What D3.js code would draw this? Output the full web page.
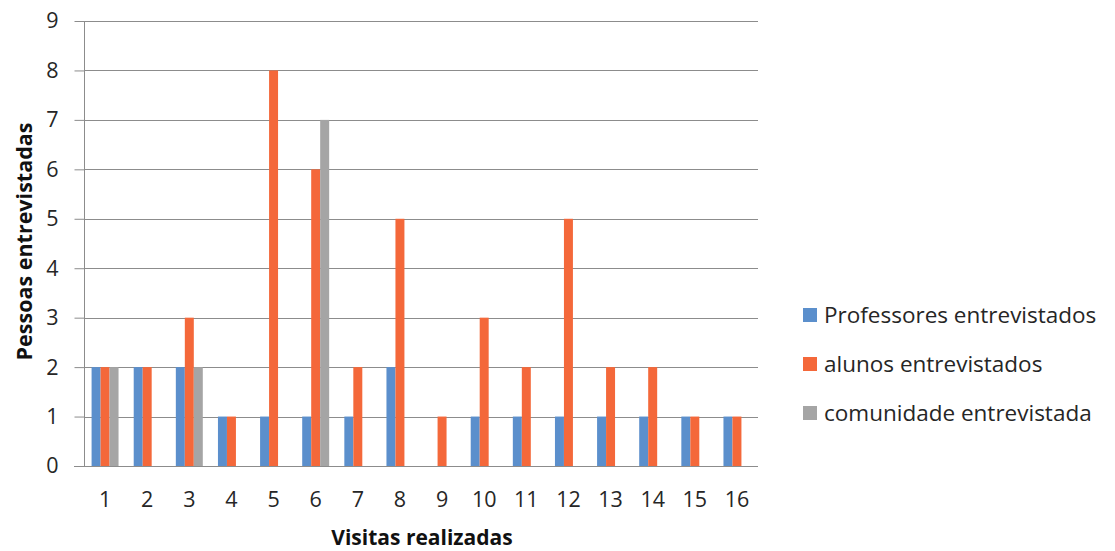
<!DOCTYPE html>
<html>
<head>
<meta charset="utf-8">
<script src="https://cdn.jsdelivr.net/npm/d3@7/dist/d3.min.js"></script>
<style>
  html, body { margin: 0; padding: 0; background: #ffffff; }
  svg { display: block; font-family: "Open Sans", "Liberation Sans", sans-serif; }
</style>
</head>
<body>
<svg id="chart" width="1115" height="551"></svg>
<script>
// Visits and people interviewed per visit
const visitas = ["1","2","3","4","5","6","7","8","9","10","11","12","13","14","15","16"];
const professores = [2,2,2,1,1,1,1,2,0,1,1,1,1,1,1,1];
const alunos      = [2,2,3,1,8,6,2,5,1,3,2,5,2,2,1,1];
const comunidade  = [2,0,2,0,0,7,0,0,0,0,0,0,0,0,0,0];
const seriesNames = ["Professores entrevistados", "alunos entrevistados", "comunidade entrevistada"];
const seriesColors = ["#5b8fcc", "#f4683a", "#a5a5a5"];
const yTicks = [0,1,2,3,4,5,6,7,8,9];

const series = [professores, alunos, comunidade];
const svg = d3.select("#chart");

const plot = { left: 84, right: 758, top: 21, bottom: 466 };

const x = d3.scaleBand()
  .domain(visitas)
  .range([plot.left, plot.right])
  .paddingInner(0.36)
  .paddingOuter(0.18);

const xs = d3.scaleBand()
  .domain(d3.range(series.length))
  .range([0, x.bandwidth()]);

const y = d3.scaleLinear()
  .domain([0, 9])
  .range([plot.bottom, plot.top]);

// horizontal gridlines
svg.append("g")
  .selectAll("line")
  .data(yTicks.filter(d => d > 0))
  .join("line")
  .attr("x1", plot.left)
  .attr("x2", plot.right)
  .attr("y1", d => Math.round(y(d)) + 0.5)
  .attr("y2", d => Math.round(y(d)) + 0.5)
  .attr("stroke", "#8c8c8c")
  .attr("stroke-width", 1);

// bars
const groups = svg.append("g")
  .selectAll("g")
  .data(visitas)
  .join("g")
  .attr("transform", d => `translate(${x(d)},0)`);

groups.selectAll("rect")
  .data((d, i) => series.map((s, k) => ({ k, v: s[i] })))
  .join("rect")
  .attr("x", d => xs(d.k))
  .attr("width", xs.bandwidth())
  .attr("y", d => y(d.v))
  .attr("height", d => y(0) - y(d.v))
  .attr("fill", d => seriesColors[d.k]);

// y axis
const yAxis = svg.append("g")
  .attr("transform", `translate(${plot.left + 0.5},0)`)
  .call(d3.axisLeft(y).tickValues(yTicks).tickFormat(d3.format("d")).tickSize(10).tickPadding(16));
yAxis.select(".domain").attr("stroke", "#8c8c8c").attr("d", `M0,${plot.top}V${plot.bottom}`);
yAxis.selectAll(".tick line").attr("stroke", "#8c8c8c");
yAxis.selectAll(".tick text")
  .attr("font-size", 21.5)
  .attr("fill", "#262626")
  .attr("font-family", "Open Sans, sans-serif");

// x axis baseline and labels
const xAxis = svg.append("g")
  .attr("transform", `translate(0,${plot.bottom + 0.5})`)
  .call(d3.axisBottom(x).tickSize(0).tickPadding(25));
xAxis.select(".domain").attr("stroke", "#8c8c8c").attr("d", `M${plot.left - 10},0H${plot.right}`);
xAxis.selectAll(".tick text")
  .attr("font-size", 21.5)
  .attr("fill", "#262626")
  .attr("font-family", "Open Sans, sans-serif");

// axis titles
svg.append("text")
  .attr("x", 422)
  .attr("y", 545)
  .attr("text-anchor", "middle")
  .attr("font-size", 21)
  .attr("font-weight", "bold")
  .attr("fill", "#111")
  .text("Visitas realizadas");

svg.append("text")
  .attr("transform", `translate(32,241.5) rotate(-90)`)
  .attr("text-anchor", "middle")
  .attr("font-size", 21.5)
  .attr("font-weight", "bold")
  .attr("fill", "#111")
  .text("Pessoas entrevistadas");

// legend
const legend = svg.append("g")
  .selectAll("g")
  .data(seriesNames)
  .join("g")
  .attr("transform", (d, i) => `translate(803,${315 + i * 49})`);

legend.append("rect")
  .attr("x", 0)
  .attr("y", -7)
  .attr("width", 14)
  .attr("height", 14)
  .attr("fill", (d, i) => seriesColors[i]);

legend.append("text")
  .attr("x", 21)
  .attr("y", 0)
  .attr("dy", "0.35em")
  .attr("font-size", 22.5)
  .attr("fill", "#262626")
  .text(d => d);
</script>
</body>
</html>
